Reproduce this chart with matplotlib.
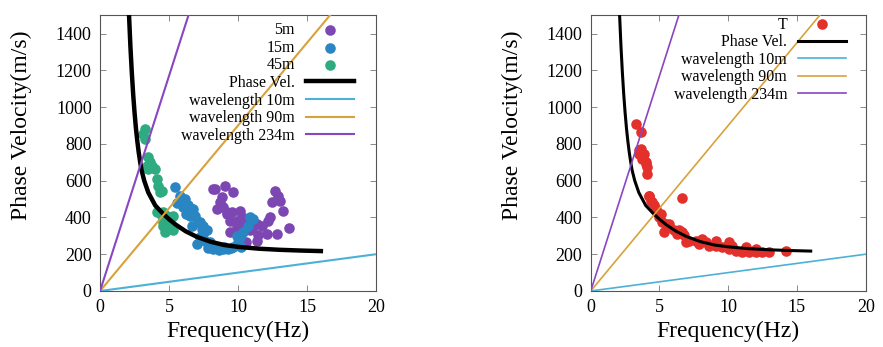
import matplotlib.pyplot as plt

plt.rcParams['font.family'] = ['Liberation Serif', 'DejaVu Serif']

# Phase velocity curve
curve_f = [2.1, 2.2, 2.3, 2.4, 2.5, 2.6, 2.7, 2.8, 2.9, 3.0, 3.2, 3.5, 4.0,
           4.5, 5.0, 5.5, 6.2, 7.0, 8.0, 9.0, 10.0, 11.5, 13.0, 14.5, 16.0]
curve_v = [1500, 1330, 1190, 1070, 970, 885, 815, 755, 705, 660, 600, 535, 465,
           425, 390, 360, 325, 295, 268, 250, 240, 230, 224, 220, 217]

# wavelength lines (v = wavelength * f), end points at 0 and 20 Hz
line_f = [0, 20]
wl10_v = [0, 200]
wl90_v = [0, 1800]
wl234_v = [0, 4680]

# left panel: 5m / 15m / 45m
f_5m = [8.33, 9.06, 9.66, 8.82, 8.7, 8.45, 8.94, 9.18, 9.54, 10.14, 9.42, 9.9,
        10.27, 9.42, 9.9, 10.87, 11.35, 11.72, 12.2, 12.3, 11.47, 12.08, 12.8,
        11.35, 12.68, 12.92, 12.44, 13.04, 13.28, 13.7, 9.18, 10.38, 10.38,
        11.0, 10.0, 10.6, 8.2]
v_5m = [555, 573, 537, 510, 483, 447, 455, 420, 428, 437, 383, 383,
        401, 320, 347, 329, 365, 356, 383, 401, 302, 311, 311,
        274, 546, 519, 483, 492, 437, 340, 428, 374, 329,
        338, 302, 265, 555]

f_15m = [5.43, 5.8, 6.16, 6.4, 6.64, 6.04, 6.88, 7.12, 7.37, 6.64, 6.04, 6.52,
         6.76, 7.25, 7.49, 7.73, 7.49, 7.25, 7.61, 7.97, 8.21, 8.57, 8.94, 9.3,
         9.66, 10.0, 10.14, 10.38, 10.75, 11.1, 10.87, 7.0, 7.8, 8.2, 8.6, 9.0,
         9.5, 10.2, 9.9, 5.6, 6.2]
v_15m = [564, 519, 501, 465, 447, 455, 410, 374, 338, 356, 492, 410,
         447, 374, 356, 329, 311, 292, 274, 265, 247, 238, 229, 229,
         238, 265, 292, 320, 356, 392, 401, 256, 235, 230, 225, 240,
         235, 240, 300, 480, 420]

f_45m = [3.26, 3.14, 3.26, 3.5, 3.62, 3.38, 3.74, 3.99, 3.5, 4.1, 4.22, 4.35,
         4.1, 4.47, 4.59, 4.83, 5.07, 5.31, 4.71, 4.47, 4.59, 4.83, 5.07, 5.31,
         4.95, 4.59]
v_45m = [881, 854, 827, 727, 700, 682, 682, 664, 664, 610, 573, 537,
         428, 410, 374, 356, 338, 329, 320, 546, 428, 410, 392, 410,
         356, 356]

# right panel: T
f_T = [3.27, 3.64, 3.64, 3.51, 3.88, 3.75, 4.0, 4.12, 4.12, 4.24, 4.36, 4.6,
       4.73, 4.85, 4.97, 5.21, 5.45, 5.33, 5.69, 6.06, 6.3, 6.79, 6.91, 7.15,
       7.64, 7.88, 8.36, 8.6, 9.09, 9.57, 10.06, 10.55, 11.03, 11.5, 12.0,
       12.48, 12.97, 10.3, 11.27, 12.0, 6.65, 14.2, 4.24, 4.48, 5.09, 5.69,
       6.42, 6.66, 8.12, 9.09, 10.06, 3.51, 4.0]
v_T = [909, 863, 773, 745, 745, 718, 700, 673, 637, 519, 492, 465,
       447, 428, 401, 374, 365, 320, 347, 329, 311, 302, 265, 274,
       274, 256, 265, 247, 247, 238, 229, 220, 211, 211, 211,
       211, 211, 247, 238, 229, 507, 220, 519, 483, 420, 365,
       329, 320, 284, 274, 265, 764, 691]

c_5m = '#7d47b3'
c_15m = '#2a86c2'
c_45m = '#2fab82'
c_T = '#e3302b'
c_10 = '#4cb1d8'
c_90 = '#d8a23a'
c_234 = '#8a45c2'

fig = plt.figure(figsize=(8.83, 3.47), dpi=100)
ax1 = fig.add_axes([0.1133, 0.1614, 0.3126, 0.795])
ax2 = fig.add_axes([0.669, 0.1614, 0.3114, 0.795])

ms = 58
ax1.scatter(f_5m, v_5m, s=ms, color=c_5m, label='5m', zorder=2, linewidths=0)
ax1.scatter(f_15m, v_15m, s=ms, color=c_15m, label='15m', zorder=2, linewidths=0)
ax1.scatter(f_45m, v_45m, s=ms, color=c_45m, label='45m', zorder=2, linewidths=0)
ax1.plot(curve_f, curve_v, color='black', lw=3.2, label='Phase Vel.', zorder=3)
ax1.plot(line_f, wl10_v, color=c_10, lw=1.5, label='wavelength 10m', zorder=3)
ax1.plot(line_f, wl90_v, color=c_90, lw=1.5, label='wavelength 90m', zorder=3)
ax1.plot(line_f, wl234_v, color=c_234, lw=1.5, label='wavelength 234m', zorder=3)

ax2.scatter(f_T, v_T, s=ms, color=c_T, label='T', zorder=2, linewidths=0)
ax2.plot(curve_f, curve_v, color='black', lw=2.2, label='Phase Vel.', zorder=3)
ax2.plot(line_f, wl10_v, color=c_10, lw=1.2, label='wavelength 10m', zorder=3)
ax2.plot(line_f, wl90_v, color=c_90, lw=1.2, label='wavelength 90m', zorder=3)
ax2.plot(line_f, wl234_v, color=c_234, lw=1.2, label='wavelength 234m', zorder=3)

for ax, anchor in ((ax1, (0.96, 1.015)), (ax2, (0.97, 1.035))):
    ax.set_xlim(0, 20)
    ax.set_ylim(0, 1500)
    ax.set_xticks([0, 5, 10, 15, 20])
    ax.set_yticks(range(0, 1401, 200))
    ax.tick_params(direction='in', top=True, right=True, length=4,
                   width=0.6, labelsize=13, color='#777777', pad=6)
    for s in ax.spines.values():
        s.set_color('#555555')
        s.set_linewidth(0.8)
    ax.set_xlabel('Frequency(Hz)', fontsize=17, labelpad=3)
    ax.set_ylabel('Phase Velocity(m/s)', fontsize=17)
    ax.yaxis.set_label_coords(-0.245, 0.6)
    # markerfirst=False puts the text left of the sample, right aligned
    ax.legend(loc='upper right', frameon=False, markerfirst=False,
              fontsize=11.5, handlelength=3.0, handletextpad=0.7,
              labelspacing=0.1, borderaxespad=0.3, scatterpoints=1,
              bbox_to_anchor=anchor)

fig.savefig('out.png', dpi=100)
